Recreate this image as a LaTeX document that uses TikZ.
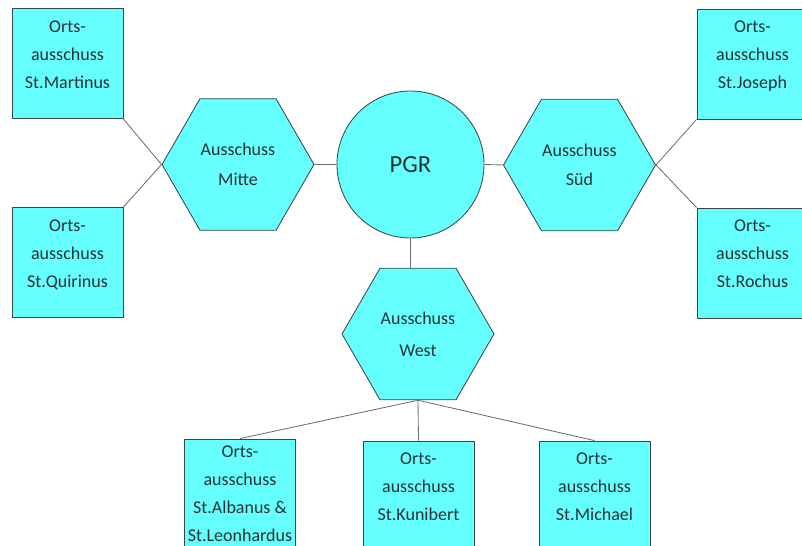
\documentclass[tikz,border=0pt]{standalone}
\usepackage{fontspec}
\setmainfont{Carlito}
\usetikzlibrary{shapes.geometric, positioning, calc}

\definecolor{cyanfill}{RGB}{102,255,255}
\definecolor{edgegray}{RGB}{60,70,72}
\definecolor{textgray}{RGB}{40,50,52}
\definecolor{linegray}{RGB}{110,110,110}

\begin{document}
\begin{tikzpicture}[
    ortsbox/.style={rectangle, draw=edgegray, fill=cyanfill, line width=0.6pt, text=textgray, align=center, font=\fontsize{12.8}{20}\selectfont, minimum width=2.775cm, minimum height=2.75cm, inner sep=0pt},
    raised/.style={text depth=0.45cm},
    hexa/.style={regular polygon, regular polygon sides=6, draw=edgegray, fill=cyanfill, line width=0.6pt, text=textgray, align=center, font=\fontsize{12.8}{21}\selectfont, minimum size=3.8cm, inner sep=0pt},
    hub/.style={circle, draw=edgegray, fill=cyanfill, line width=0.6pt, text=textgray, font=\fontsize{17.5}{20}\selectfont, minimum size=3.675cm, inner sep=0pt},
    link/.style={draw=linegray, line width=0.6pt}
]
\useasboundingbox (0,0) rectangle (20.05,-13.65);

% centre
\node[hub] (pgr) at (10.2625, -4.1125) {PGR};

% committees
\node[hexa] (mitte) at (5.95, -4.1125) {Ausschuss\\Mitte};
\node[hexa] (sued) at (14.4875, -4.125) {Ausschuss\\Süd};
\node[hexa, font=\fontsize{12.8}{23}\selectfont] (west) at (10.45, -8.35) {Ausschuss\\West};

% local committees
\node[ortsbox, raised] (martinus) at (1.6875, -1.5875) {Orts-\\ausschuss\\St.Martinus};
\node[ortsbox, raised] (quirinus) at (1.6875, -6.5625) {Orts-\\ausschuss\\St.Quirinus};
\node[ortsbox, raised] (joseph) at (18.8125, -1.6) {Orts-\\ausschuss\\St.Joseph};
\node[ortsbox, raised] (rochus) at (18.8125, -6.575) {Orts-\\ausschuss\\St.Rochus};
\node[ortsbox] (albanus) at (6.0, -12.35) {Orts-\\ausschuss\\St.Albanus \&\\St.Leonhardus};
\node[ortsbox, raised] (kunibert) at (10.4625, -12.4) {Orts-\\ausschuss\\St.Kunibert};
\node[ortsbox, raised] (michael) at (14.8625, -12.4) {Orts-\\ausschuss\\St.Michael};

\draw[link] (mitte.east) -- (pgr.west);
\draw[link] (pgr.east) -- (sued.west);
\draw[link] (pgr.south) -- (pgr.south |- west.north);

\draw[link] (martinus.south east) -- (mitte.west);
\draw[link] (quirinus.north east) -- (mitte.west);
\draw[link] (sued.east) -- (joseph.south west);
\draw[link] (sued.east) -- (rochus.north west);

\draw[link] (west.south) -- (albanus.north);
\draw[link] (west.south) -- (kunibert.north);
\draw[link] (west.south) -- (michael.north);

\end{tikzpicture}
\end{document}
